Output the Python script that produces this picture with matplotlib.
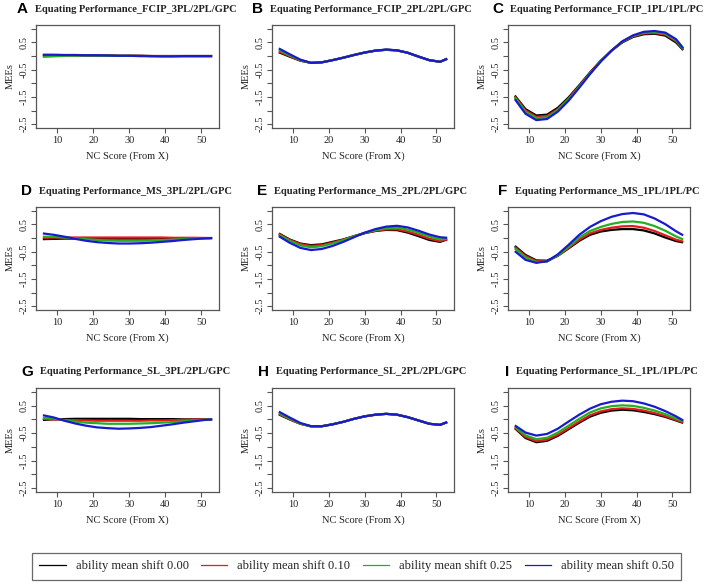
import matplotlib
matplotlib.use('Agg')
import matplotlib.pyplot as plt

# NC score grid (x axis)
nc_score = [6, 9, 12, 15, 18, 21, 24, 27, 30, 33, 36, 39, 42, 45, 48, 51, 53]

shift_labels = ['ability mean shift 0.00', 'ability mean shift 0.10',
                'ability mean shift 0.25', 'ability mean shift 0.50']
shift_colors = ['black', '#e41a1c', '#22b022', '#1a1acd']

panel_letters = ['A', 'B', 'C', 'D', 'E', 'F', 'G', 'H', 'I']
panel_titles = ['Equating Performance_FCIP_3PL/2PL/GPC',
                'Equating Performance_FCIP_2PL/2PL/GPC',
                'Equating Performance_FCIP_1PL/1PL/PC',
                'Equating Performance_MS_3PL/2PL/GPC',
                'Equating Performance_MS_2PL/2PL/GPC',
                'Equating Performance_MS_1PL/1PL/PC',
                'Equating Performance_SL_3PL/2PL/GPC',
                'Equating Performance_SL_2PL/2PL/GPC',
                'Equating Performance_SL_1PL/1PL/PC']

# MEEs per panel, order: shift 0.00, 0.10, 0.25, 0.50
mee_fcip_3pl = [
    [0.02, 0.03, 0.03, 0.03, 0.02, 0.02, 0.02, 0.01, 0.01, 0.01, 0.0, 0.0, 0.0, 0.0, 0.0, 0.0, 0.0],
    [0.01, 0.02, 0.03, 0.03, 0.02, 0.02, 0.02, 0.01, 0.01, 0.01, 0.0, 0.0, 0.0, 0.0, 0.0, 0.0, 0.0],
    [-0.03, -0.01, 0.01, 0.02, 0.02, 0.02, 0.01, 0.01, 0.01, 0.0, 0.0, 0.0, 0.0, 0.0, 0.0, 0.0, 0.0],
    [0.05, 0.05, 0.04, 0.04, 0.03, 0.03, 0.02, 0.01, 0.01, 0.0, 0.0, -0.01, -0.01, 0.0, 0.0, 0.0, 0.0],
]
mee_fcip_2pl = [
    [0.14, -0.02, -0.17, -0.25, -0.23, -0.15, -0.06, 0.04, 0.13, 0.20, 0.23, 0.21, 0.12, -0.02, -0.15, -0.21, -0.10],
    [0.17, 0.00, -0.16, -0.25, -0.23, -0.15, -0.06, 0.04, 0.13, 0.20, 0.23, 0.21, 0.12, -0.02, -0.15, -0.21, -0.10],
    [0.22, 0.03, -0.15, -0.25, -0.23, -0.15, -0.06, 0.04, 0.13, 0.20, 0.23, 0.21, 0.12, -0.02, -0.15, -0.21, -0.10],
    [0.28, 0.07, -0.13, -0.25, -0.23, -0.15, -0.06, 0.04, 0.13, 0.20, 0.24, 0.21, 0.12, -0.02, -0.15, -0.21, -0.10],
]
mee_fcip_1pl = [
    [-1.45, -1.95, -2.18, -2.15, -1.90, -1.52, -1.07, -0.60, -0.17, 0.20, 0.50, 0.70, 0.80, 0.82, 0.75, 0.50, 0.22],
    [-1.48, -2.00, -2.23, -2.20, -1.95, -1.56, -1.10, -0.62, -0.18, 0.20, 0.52, 0.72, 0.83, 0.85, 0.79, 0.55, 0.25],
    [-1.52, -2.05, -2.28, -2.25, -1.99, -1.60, -1.13, -0.64, -0.19, 0.20, 0.53, 0.74, 0.86, 0.88, 0.82, 0.58, 0.27],
    [-1.58, -2.12, -2.35, -2.31, -2.04, -1.64, -1.16, -0.66, -0.20, 0.20, 0.54, 0.76, 0.89, 0.92, 0.86, 0.62, 0.29],
]
mee_ms_3pl = [
    [-0.04, -0.03, -0.02, -0.02, -0.02, -0.02, -0.02, -0.02, -0.02, -0.02, -0.02, -0.01, -0.01, -0.01, 0.0, 0.0, 0.0],
    [0.01, 0.02, 0.02, 0.02, 0.02, 0.02, 0.02, 0.02, 0.02, 0.02, 0.02, 0.02, 0.01, 0.01, 0.01, 0.0, 0.0],
    [0.05, 0.04, 0.02, -0.01, -0.04, -0.07, -0.09, -0.10, -0.10, -0.10, -0.09, -0.08, -0.06, -0.04, -0.02, -0.01, 0.0],
    [0.17, 0.12, 0.05, -0.03, -0.10, -0.15, -0.18, -0.20, -0.20, -0.19, -0.17, -0.14, -0.11, -0.07, -0.04, -0.01, 0.0],
]
mee_ms_2pl = [
    [0.17, -0.05, -0.20, -0.26, -0.23, -0.14, -0.05, 0.07, 0.18, 0.26, 0.30, 0.29, 0.20, 0.07, -0.07, -0.14, -0.05],
    [0.15, -0.07, -0.22, -0.29, -0.26, -0.17, -0.06, 0.07, 0.19, 0.27, 0.32, 0.32, 0.24, 0.12, -0.02, -0.11, -0.04],
    [0.12, -0.10, -0.27, -0.34, -0.30, -0.20, -0.08, 0.06, 0.19, 0.29, 0.36, 0.38, 0.31, 0.20, 0.06, -0.05, -0.02],
    [0.07, -0.17, -0.36, -0.44, -0.40, -0.29, -0.14, 0.03, 0.20, 0.33, 0.42, 0.45, 0.39, 0.27, 0.13, 0.03, 0.01],
]
mee_ms_1pl = [
    [-0.29, -0.62, -0.82, -0.83, -0.65, -0.38, -0.10, 0.12, 0.24, 0.30, 0.33, 0.33, 0.28, 0.17, 0.02, -0.11, -0.16],
    [-0.33, -0.66, -0.85, -0.85, -0.65, -0.36, -0.06, 0.17, 0.30, 0.38, 0.43, 0.44, 0.38, 0.26, 0.10, -0.06, -0.13],
    [-0.38, -0.71, -0.88, -0.86, -0.64, -0.32, 0.02, 0.26, 0.41, 0.52, 0.59, 0.61, 0.56, 0.44, 0.27, 0.06, -0.05],
    [-0.48, -0.80, -0.91, -0.85, -0.60, -0.25, 0.12, 0.41, 0.62, 0.78, 0.88, 0.92, 0.87, 0.72, 0.51, 0.25, 0.10],
]
mee_sl_3pl = [
    [-0.02, 0.0, 0.01, 0.02, 0.02, 0.02, 0.02, 0.02, 0.02, 0.01, 0.01, 0.01, 0.01, 0.0, 0.0, 0.0, 0.0],
    [0.02, 0.0, -0.02, -0.03, -0.04, -0.05, -0.05, -0.05, -0.05, -0.05, -0.04, -0.04, -0.03, -0.02, -0.01, 0.0, 0.0],
    [0.05, 0.03, -0.03, -0.08, -0.12, -0.14, -0.16, -0.16, -0.16, -0.15, -0.14, -0.12, -0.10, -0.07, -0.04, -0.01, 0.0],
    [0.15, 0.07, -0.05, -0.15, -0.23, -0.29, -0.32, -0.34, -0.33, -0.31, -0.28, -0.23, -0.18, -0.12, -0.07, -0.02, 0.0],
]
mee_sl_2pl = [
    [0.18, 0.00, -0.16, -0.25, -0.25, -0.18, -0.09, 0.02, 0.11, 0.17, 0.20, 0.17, 0.08, -0.04, -0.16, -0.20, -0.10],
    [0.20, 0.01, -0.16, -0.25, -0.25, -0.18, -0.09, 0.02, 0.11, 0.17, 0.20, 0.17, 0.08, -0.04, -0.16, -0.20, -0.10],
    [0.23, 0.03, -0.15, -0.26, -0.25, -0.18, -0.09, 0.02, 0.11, 0.17, 0.20, 0.17, 0.08, -0.04, -0.16, -0.20, -0.10],
    [0.28, 0.07, -0.13, -0.25, -0.25, -0.18, -0.09, 0.02, 0.11, 0.17, 0.20, 0.17, 0.08, -0.04, -0.16, -0.20, -0.10],
]
mee_sl_1pl = [
    [-0.32, -0.68, -0.83, -0.78, -0.60, -0.36, -0.12, 0.10, 0.24, 0.32, 0.35, 0.33, 0.27, 0.19, 0.09, -0.04, -0.13],
    [-0.30, -0.64, -0.79, -0.74, -0.56, -0.32, -0.08, 0.15, 0.29, 0.37, 0.40, 0.38, 0.32, 0.23, 0.12, -0.02, -0.11],
    [-0.27, -0.58, -0.72, -0.67, -0.48, -0.23, 0.02, 0.25, 0.40, 0.48, 0.51, 0.49, 0.42, 0.32, 0.19, 0.03, -0.07],
    [-0.22, -0.48, -0.59, -0.53, -0.34, -0.08, 0.17, 0.39, 0.55, 0.64, 0.68, 0.66, 0.58, 0.46, 0.30, 0.11, -0.04],
]

panel_data = [mee_fcip_3pl, mee_fcip_2pl, mee_fcip_1pl,
              mee_ms_3pl, mee_ms_2pl, mee_ms_1pl,
              mee_sl_3pl, mee_sl_2pl, mee_sl_1pl]

y_ticks = [-2.5, -2.0, -1.5, -1.0, -0.5, 0.0, 0.5, 1.0]
y_ticklabels = ['-2.5', '', '-1.5', '', '-0.5', '', '0.5', '']
x_ticks = [10, 20, 30, 40, 50]

W, H = 713, 586
serif = ['Liberation Serif', 'DejaVu Serif']
text_col = '#222222'
frame_col = '#555555'

fig = plt.figure(figsize=(W / 100, H / 100), dpi=100)

# panel boxes in pixels (left, right, top, bottom)
col_px = [(36, 219), (272, 454), (508, 690)]
row_px = [(25, 128), (207, 310), (388, 492)]

for i in range(9):
    r, c = divmod(i, 3)
    x0, x1 = col_px[c]
    y0, y1 = row_px[r]
    ax = fig.add_axes([x0 / W, 1 - y1 / H, (x1 - x0) / W, (y1 - y0) / H])
    for vals, col in zip(panel_data[i], shift_colors):
        ax.plot(nc_score, vals, color=col, lw=1.6, solid_capstyle='butt')
    ax.set_xlim(4.1, 54.9)
    ax.set_ylim(-2.64, 1.14)
    ax.set_xticks(x_ticks)
    ax.set_yticks(y_ticks)
    ax.set_yticklabels(y_ticklabels, rotation=90, va='center')
    ax.tick_params(axis='both', length=3.5, width=0.8, color=frame_col,
                   labelsize=7.5, labelcolor=text_col, pad=2)
    for lab in ax.get_xticklabels() + ax.get_yticklabels():
        lab.set_family(serif)
    for sp in ax.spines.values():
        sp.set_color(frame_col)
        sp.set_linewidth(0.9)
    ax.set_xlabel('NC Score (From X)', fontsize=7.5, family=serif,
                  color=text_col, labelpad=5)
    ax.set_ylabel('MEEs', fontsize=7.5, family=serif, color=text_col, labelpad=3)

    # title and panel letter
    tx = ((x0 + x1) / 2 + 8) / W
    ty = 1 - (y0 - 16) / H
    t = fig.text(tx, ty, panel_titles[i], ha='center', va='center',
                 fontsize=7.6, fontweight='bold', family=serif, color=text_col)
    ax.annotate(panel_letters[i], xy=(0, 0.5), xycoords=t,
                xytext=(-5, 0), textcoords='offset points',
                ha='right', va='center', fontsize=11, fontweight='bold',
                family=['Liberation Sans', 'DejaVu Sans'], color='black',
                annotation_clip=False)

handles = [plt.Line2D([], [], color=c, lw=0.9) for c in shift_colors]
leg = fig.legend(handles, shift_labels, loc='center', ncol=4,
                 bbox_to_anchor=(0.5, 1 - 566 / H),
                 prop={'family': serif, 'size': 9},
                 handlelength=2.1, handletextpad=0.8, columnspacing=1.0,
                 borderpad=0.6, frameon=True, fancybox=False)
leg.get_frame().set_edgecolor('#444444')
leg.get_frame().set_linewidth(0.9)
for txt in leg.get_texts():
    txt.set_color(text_col)

fig.savefig('out.png', dpi=100)
